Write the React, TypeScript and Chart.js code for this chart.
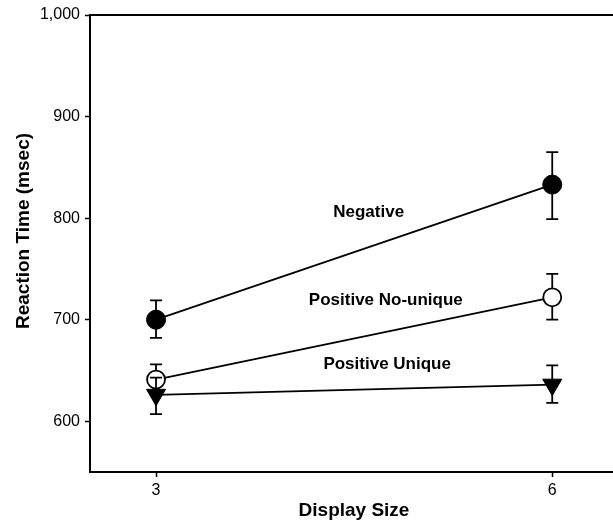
import React, { useEffect, useRef } from 'react';
import { Chart, registerables } from 'chart.js';

Chart.register(...registerables);

// ---- data ----
const displaySizes = [3, 6];
const xTicks = [3, 6];
const yTicks = [600, 700, 800, 900, 1000];

const negative = [700, 833];
const negativeLow = [682, 799];
const negativeHigh = [719, 865];

const noUnique = [641, 722];
const noUniqueLow = [626, 700];
const noUniqueHigh = [656, 745];

const unique = [626, 636];
const uniqueLow = [607, 618];
const uniqueHigh = [643, 655];

const seriesLabels = ['Negative', 'Positive No-unique', 'Positive Unique'];
const labelX = [4.61, 4.74, 4.75];
const labelY = [807, 720.5, 657.5];

const xTitle = 'Display Size';
const yTitle = 'Reaction Time (msec)';

const FONT = '"Liberation Sans", Arial, Helvetica, sans-serif';

const errorBarPlugin = {
  id: 'errorBars',
  beforeDatasetDraw(chart: any, args: any) {
    const ds: any = chart.data.datasets[args.index];
    if (!ds.errLow) return;
    const x = chart.scales.x;
    const y = chart.scales.y;
    const ctx = chart.ctx;
    ctx.save();
    ctx.strokeStyle = '#000';
    ctx.lineWidth = 1.8;
    ds.data.forEach((p: any, i: number) => {
      const px = x.getPixelForValue(p.x);
      const lo = y.getPixelForValue(ds.errLow[i]);
      const hi = y.getPixelForValue(ds.errHigh[i]);
      ctx.beginPath();
      ctx.moveTo(px, lo);
      ctx.lineTo(px, hi);
      ctx.moveTo(px - 6, lo);
      ctx.lineTo(px + 6, lo);
      ctx.moveTo(px - 6, hi);
      ctx.lineTo(px + 6, hi);
      ctx.stroke();
    });
    ctx.restore();
  },
};

const decorPlugin = {
  id: 'decor',
  afterDraw(chart: any) {
    const ctx = chart.ctx;
    const area = chart.chartArea;
    const x = chart.scales.x;
    const y = chart.scales.y;
    ctx.save();
    // top frame line
    ctx.strokeStyle = '#000';
    ctx.lineWidth = 2;
    ctx.beginPath();
    ctx.moveTo(area.left - 1, area.top);
    ctx.lineTo(area.right, area.top);
    ctx.stroke();

    ctx.fillStyle = '#000';
    // series annotations
    ctx.font = `bold 17px ${FONT}`;
    ctx.textAlign = 'center';
    ctx.textBaseline = 'alphabetic';
    seriesLabels.forEach((t, i) => {
      const px = x.getPixelForValue(labelX[i]);
      const py = y.getPixelForValue(labelY[i]);
      ctx.fillText(t, px, py + 6);
    });

    // axis titles
    ctx.font = `bold 19px ${FONT}`;
    ctx.textBaseline = 'middle';
    ctx.fillText(xTitle, 354, 511);
    ctx.translate(24, 231);
    ctx.rotate(-Math.PI / 2);
    ctx.fillText(yTitle, 0, 0);
    ctx.restore();
  },
};

export default function App() {
  const ref = useRef<HTMLCanvasElement | null>(null);

  useEffect(() => {
    if (!ref.current) return;
    const toPts = (vals: number[]) => vals.map((v, i) => ({ x: displaySizes[i], y: v }));
    const chart = new Chart(ref.current, {
      type: 'line',
      data: {
        datasets: [
          {
            label: seriesLabels[0],
            data: toPts(negative),
            errLow: negativeLow,
            errHigh: negativeHigh,
            order: 3,
            borderColor: '#000',
            borderWidth: 1.8,
            pointStyle: 'circle',
            pointRadius: 9.5,
            pointBackgroundColor: '#000',
            pointBorderColor: '#000',
            pointBorderWidth: 1,
          } as any,
          {
            label: seriesLabels[1],
            data: toPts(noUnique),
            errLow: noUniqueLow,
            errHigh: noUniqueHigh,
            order: 2,
            borderColor: '#000',
            borderWidth: 1.8,
            pointStyle: 'circle',
            pointRadius: 9,
            pointBackgroundColor: '#fff',
            pointBorderColor: '#000',
            pointBorderWidth: 1.8,
          } as any,
          {
            label: seriesLabels[2],
            data: toPts(unique),
            errLow: uniqueLow,
            errHigh: uniqueHigh,
            order: 1,
            borderColor: '#000',
            borderWidth: 1.8,
            pointStyle: 'triangle',
            pointRotation: 180,
            pointRadius: 11,
            pointBackgroundColor: '#000',
            pointBorderColor: '#000',
            pointBorderWidth: 1,
          } as any,
        ],
      },
      options: {
        responsive: false,
        animation: false,
        devicePixelRatio: 1,
        layout: { autoPadding: false, padding: { top: 15, left: 0, right: 0, bottom: 0 } },
        plugins: {
          legend: { display: false },
          tooltip: { enabled: false },
        },
        scales: {
          x: {
            type: 'linear',
            min: 2.5,
            max: 6.46,
            afterFit: (s: any) => {
              s.height = 52;
            },
            afterBuildTicks: (s: any) => {
              s.ticks = xTicks.map((v) => ({ value: v }));
            },
            grid: {
              display: true,
              drawOnChartArea: false,
              drawTicks: true,
              tickLength: 5,
              tickWidth: 1.5,
              tickColor: '#000',
            },
            border: { display: true, color: '#000', width: 2 },
            ticks: {
              color: '#000',
              padding: 4,
              font: { family: FONT, size: 16 },
              callback: (v: any) => String(v),
            },
          },
          y: {
            type: 'linear',
            min: 550,
            max: 1000,
            afterFit: (s: any) => {
              s.width = 90;
            },
            afterBuildTicks: (s: any) => {
              s.ticks = yTicks.map((v) => ({ value: v }));
            },
            grid: {
              display: true,
              drawOnChartArea: false,
              drawTicks: true,
              tickLength: 5,
              tickWidth: 1.5,
              tickColor: '#000',
            },
            border: { display: true, color: '#000', width: 2 },
            ticks: {
              color: '#000',
              padding: 5,
              font: { family: FONT, size: 16 },
              callback: (v: any) => Number(v).toLocaleString('en-US'),
            },
          },
        },
      },
      plugins: [errorBarPlugin, decorPlugin],
    });
    return () => chart.destroy();
  }, []);

  return (
    <div style={{ position: 'fixed', left: 0, top: 0, width: 613, height: 524, background: '#fff' }}>
      <canvas ref={ref} width={613} height={524} style={{ display: 'block' }} />
    </div>
  );
}
